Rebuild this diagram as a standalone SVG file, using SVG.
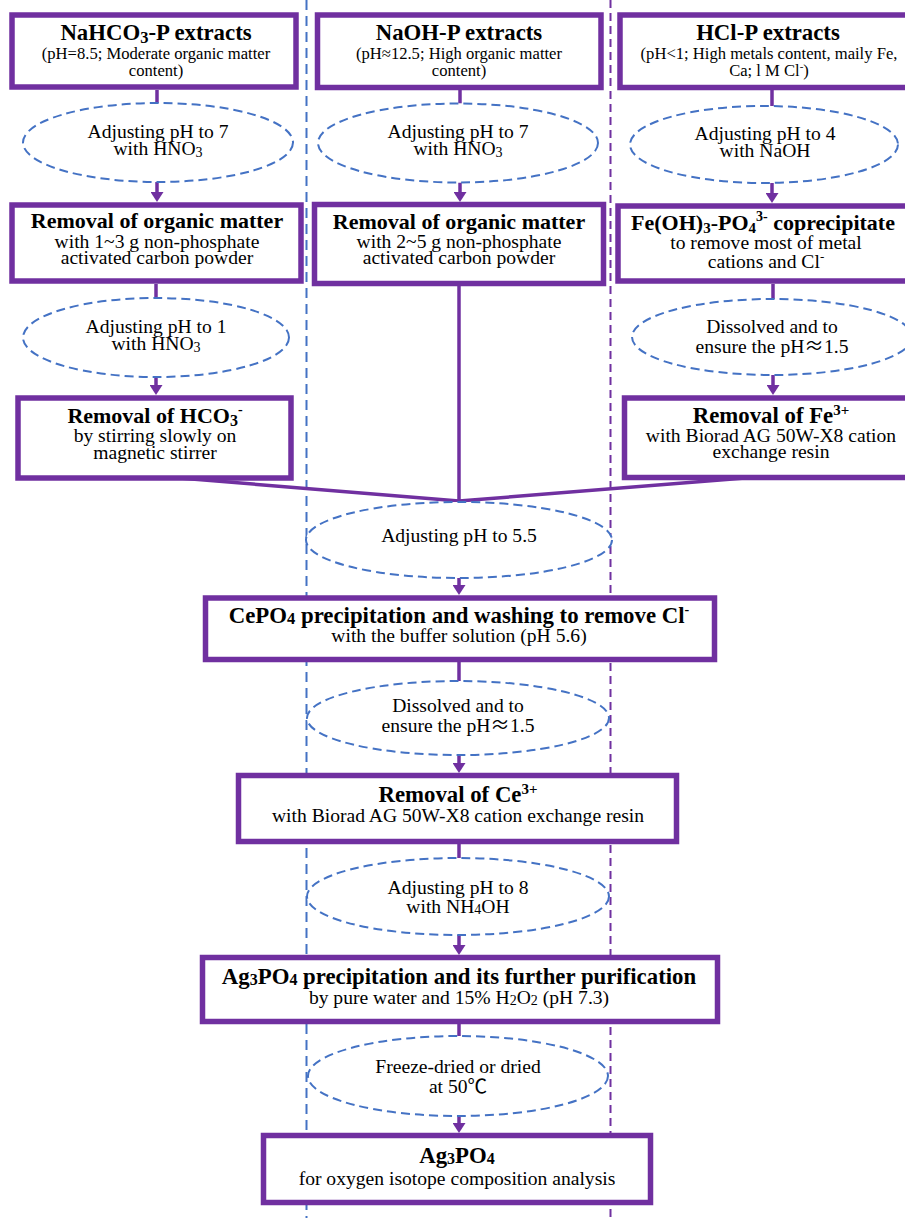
<svg xmlns="http://www.w3.org/2000/svg" width="905" height="1218" viewBox="0 0 905 1218">
<defs>
<style>
.box{fill:#fff;stroke:#7030A0;stroke-width:5.5}
.ell{fill:#fff;stroke:#4472C4;stroke-width:2;stroke-dasharray:9 5}
.ln{stroke:#7030A0;stroke-width:3.5;fill:none}
.arr{stroke:#7030A0;stroke-width:3.5;fill:none;marker-end:url(#ah)}
.t{font-family:"Liberation Serif","Times New Roman","Noto Sans CJK SC",serif;font-weight:bold;font-size:22.8px;fill:#000;text-anchor:middle}
.t22{font-size:22px}
.s{font-family:"Liberation Serif","Times New Roman","Noto Sans CJK SC",serif;font-size:19.6px;fill:#000;text-anchor:middle}
.s16{font-size:16.6px}
.cjk{font-family:"Noto Sans CJK SC",sans-serif}
.sep{stroke-width:2;fill:none}
</style>
<marker id="ah" markerUnits="userSpaceOnUse" markerWidth="10" markerHeight="13" refX="2" refY="6.5" orient="auto" viewBox="0 0 10 13">
<path d="M0,0 L10,6.5 L0,13 Z" fill="#7030A0"/>
</marker>
</defs>
<rect x="0" y="0" width="905" height="1218" fill="#fff"/>
<g id="separators">
<line class="sep" x1="306.5" y1="0" x2="306.5" y2="1218" stroke="#4472C4" stroke-dasharray="10 6"/>
<line class="sep" x1="610.5" y1="0" x2="610.5" y2="1218" stroke="#7030A0" stroke-dasharray="8 5"/>
</g>
<g id="connectors">
<line class="ln" x1="157" y1="90" x2="157" y2="103"/>
<line class="arr" x1="157" y1="182" x2="157" y2="194"/>
<line class="ln" x1="156" y1="284" x2="156" y2="298"/>
<line class="arr" x1="156" y1="377" x2="156" y2="387"/>
<line class="ln" x1="460" y1="90" x2="460" y2="103.5"/>
<line class="arr" x1="460" y1="182.5" x2="460" y2="194"/>
<line class="ln" x1="459" y1="284" x2="459" y2="501"/>
<line class="ln" x1="772" y1="90" x2="772" y2="106"/>
<line class="arr" x1="772" y1="183" x2="772" y2="195"/>
<line class="ln" x1="773" y1="284" x2="773" y2="299"/>
<line class="arr" x1="773" y1="375" x2="773" y2="387"/>
<line class="ln" x1="155" y1="476" x2="459" y2="501"/>
<line class="ln" x1="771" y1="476" x2="459" y2="501"/>
<line class="arr" x1="459" y1="578" x2="459" y2="587"/>
<line class="ln" x1="459" y1="662" x2="459" y2="681"/>
<line class="arr" x1="459" y1="755" x2="459" y2="765"/>
<line class="ln" x1="459" y1="844" x2="459" y2="858"/>
<line class="arr" x1="459" y1="935" x2="459" y2="947"/>
<line class="ln" x1="459" y1="1024" x2="459" y2="1036"/>
<line class="arr" x1="459" y1="1116" x2="459" y2="1125"/>
</g>
<g id="nahco3-extracts">
<rect class="box" x="12" y="15" width="284" height="72"/>
<text class="t" x="156" y="40">NaHCO<tspan font-size="16.5" dy="3">3</tspan><tspan dy="-3">-P extracts</tspan></text>
<text class="s s16" x="156" y="58.5">(pH=8.5; Moderate organic matter</text>
<text class="s s16" x="156" y="76">content)</text>
</g>
<g id="adj-ph7-left">
<ellipse class="ell" cx="158" cy="142.5" rx="135" ry="39.5"/>
<text class="s" x="158" y="138">Adjusting pH to 7</text>
<text class="s" x="158" y="155">with HNO<tspan font-size="14" dy="2">3</tspan></text>
</g>
<g id="removal-om-left">
<rect class="box" x="12" y="205" width="289" height="76"/>
<text class="t t22" x="157" y="228">Removal of organic matter</text>
<text class="s" x="157" y="247.5">with 1~3 g non-phosphate</text>
<text class="s" x="157" y="263.5">activated carbon powder</text>
</g>
<g id="adj-ph1-left">
<ellipse class="ell" cx="156" cy="337.5" rx="133" ry="39.5"/>
<text class="s" x="156" y="333">Adjusting pH to 1</text>
<text class="s" x="156" y="350">with HNO<tspan font-size="14" dy="2">3</tspan></text>
</g>
<g id="removal-hco3">
<rect class="box" x="18" y="398" width="273" height="80"/>
<text class="t t22" x="155" y="423">Removal of HCO<tspan font-size="16" dy="3">3</tspan><tspan font-size="14" dy="-12">-</tspan></text>
<text class="s" x="155" y="442">by stirring slowly on</text>
<text class="s" x="155" y="458.5">magnetic stirrer</text>
</g>
<g id="naoh-extracts">
<rect class="box" x="317.5" y="15" width="283.5" height="72.5"/>
<text class="t" x="459" y="40">NaOH-P extracts</text>
<text class="s s16" x="459" y="58.5">(pH≈12.5; High organic matter</text>
<text class="s s16" x="459" y="76">content)</text>
</g>
<g id="adj-ph7-mid">
<ellipse class="ell" cx="458" cy="143" rx="140" ry="39.5"/>
<text class="s" x="458" y="138">Adjusting pH to 7</text>
<text class="s" x="458" y="155">with HNO<tspan font-size="14" dy="2">3</tspan></text>
</g>
<g id="removal-om-mid">
<rect class="box" x="314.5" y="204.5" width="289" height="79"/>
<text class="t t22" x="459" y="229">Removal of organic matter</text>
<text class="s" x="459" y="247.5">with 2~5 g non-phosphate</text>
<text class="s" x="459" y="263.5">activated carbon powder</text>
</g>
<g id="hcl-extracts">
<rect class="box" x="620" y="15" width="296" height="72.5"/>
<text class="t" x="768" y="40">HCl-P extracts</text>
<text class="s s16" x="769" y="58.5">(pH&lt;1; High metals content, maily Fe,</text>
<text class="s s16" x="769" y="76">Ca; l M Cl<tspan font-size="11" dy="-6">-</tspan><tspan dy="6">)</tspan></text>
</g>
<g id="adj-ph4-right">
<ellipse class="ell" cx="764" cy="144.5" rx="134" ry="38.5"/>
<text class="s" x="765" y="140">Adjusting pH to 4</text>
<text class="s" x="765" y="157">with NaOH</text>
</g>
<g id="feoh3-coprecipitate">
<rect class="box" x="618" y="206" width="300" height="75"/>
<text class="t t22" x="763" y="230">Fe(OH)<tspan font-size="15" dy="3">3</tspan><tspan dy="-3">-PO</tspan><tspan font-size="15" dy="3">4</tspan><tspan font-size="14" dy="-12">3-</tspan><tspan dy="9"> coprecipitate</tspan></text>
<text class="s" x="766" y="249">to remove most of metal</text>
<text class="s" x="766" y="268">cations and Cl<tspan font-size="13" dy="-7">-</tspan></text>
</g>
<g id="dissolved-right">
<ellipse class="ell" cx="772" cy="337" rx="140" ry="38"/>
<text class="s" x="772" y="333">Dissolved and to</text>
<text class="s" x="772" y="353">ensure the pH<tspan class="cjk">≈</tspan>1.5</text>
</g>
<g id="removal-fe3">
<rect class="box" x="624.5" y="398" width="294" height="79.5"/>
<text class="t" x="771" y="423">Removal of Fe<tspan font-size="15" dy="-8">3+</tspan></text>
<text class="s" x="771" y="442">with Biorad AG 50W-X8 cation</text>
<text class="s" x="771" y="458">exchange resin</text>
</g>
<g id="adj-ph55">
<ellipse class="ell" cx="459" cy="540" rx="153" ry="38"/>
<text class="s" x="459" y="542">Adjusting pH to 5.5</text>
</g>
<g id="cepo4-precipitation">
<rect class="box" x="205.5" y="598" width="509" height="61.5"/>
<text class="t" x="459" y="623">CePO<tspan font-size="16.5" dy="1">4</tspan><tspan dy="-1"> precipitation and washing to remove Cl</tspan><tspan font-size="14" dy="-9">-</tspan></text>
<text class="s" x="459" y="642">with the buffer solution (pH 5.6)</text>
</g>
<g id="dissolved-mid">
<ellipse class="ell" cx="458" cy="718" rx="151" ry="37"/>
<text class="s" x="458" y="712">Dissolved and to</text>
<text class="s" x="458" y="732">ensure the pH<tspan class="cjk">≈</tspan>1.5</text>
</g>
<g id="removal-ce3">
<rect class="box" x="238.5" y="775.5" width="438" height="66"/>
<text class="t" x="458" y="802">Removal of Ce<tspan font-size="15" dy="-8">3+</tspan></text>
<text class="s" x="458" y="822">with Biorad AG 50W-X8 cation exchange resin</text>
</g>
<g id="adj-ph8">
<ellipse class="ell" cx="458" cy="896.5" rx="151" ry="38.5"/>
<text class="s" x="458" y="894">Adjusting pH to 8</text>
<text class="s" x="458" y="913">with NH<tspan font-size="14" dy="1">4</tspan><tspan dy="-1">OH</tspan></text>
</g>
<g id="ag3po4-precipitation">
<rect class="box" x="202.5" y="957.5" width="515" height="64"/>
<text class="t" x="459" y="983.5">Ag<tspan font-size="16" dy="1">3</tspan><tspan dy="-1">PO</tspan><tspan font-size="16" dy="1">4</tspan><tspan dy="-1"> precipitation and its further purification</tspan></text>
<text class="s" x="459" y="1004">by pure water and 15% H<tspan font-size="14" dy="1">2</tspan><tspan dy="-1">O</tspan><tspan font-size="14" dy="1">2</tspan><tspan dy="-1"> (pH 7.3)</tspan></text>
</g>
<g id="freeze-dried">
<ellipse class="ell" cx="458" cy="1076" rx="150" ry="40"/>
<text class="s" x="458" y="1073">Freeze-dried or dried</text>
<text class="s" x="458" y="1093">at 50<tspan class="cjk">℃</tspan></text>
</g>
<g id="ag3po4-final">
<rect class="box" x="263.5" y="1135.5" width="387" height="67"/>
<text class="t" x="457" y="1163">Ag<tspan font-size="16" dy="1">3</tspan><tspan dy="-1">PO</tspan><tspan font-size="16" dy="1">4</tspan></text>
<text class="s" x="457" y="1185">for oxygen isotope composition analysis</text>
</g>
</svg>
